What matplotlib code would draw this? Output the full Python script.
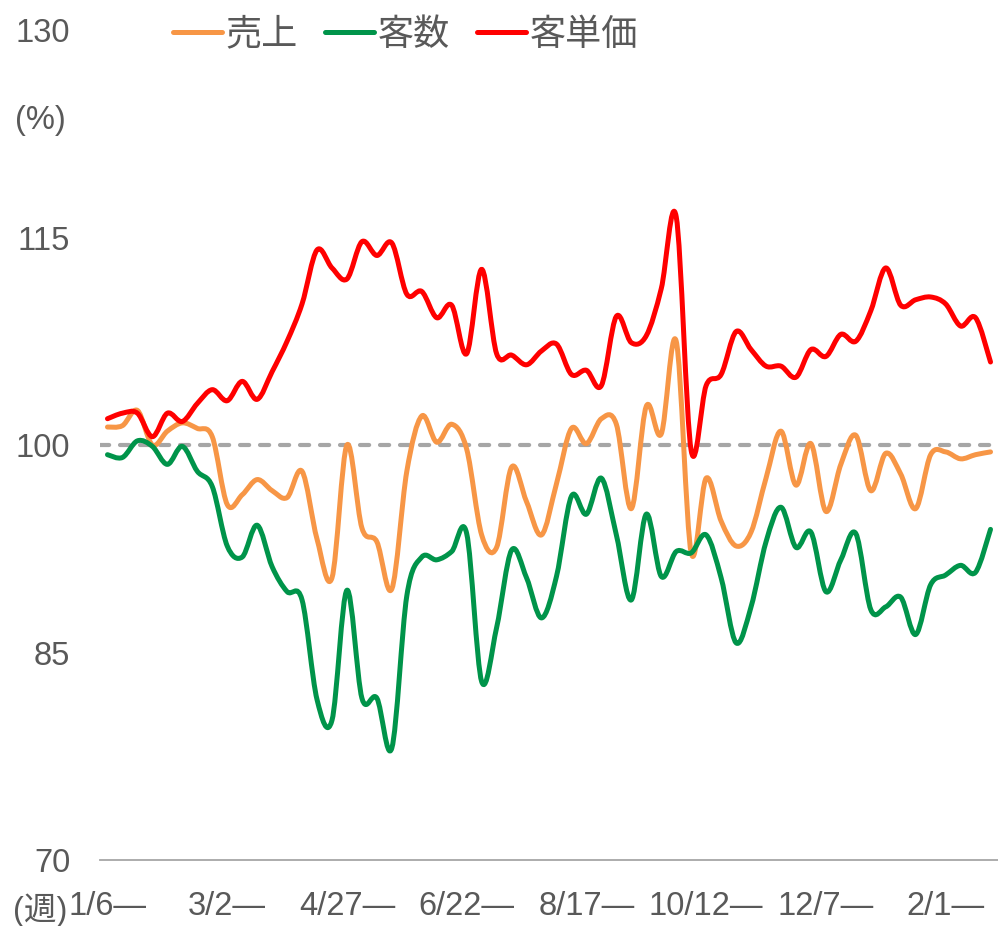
import matplotlib
matplotlib.use("Agg")
import matplotlib.pyplot as plt
from matplotlib.path import Path
from matplotlib.patches import PathPatch
from matplotlib.lines import Line2D

plt.rcParams['font.family'] = ['Liberation Sans', 'Noto Sans CJK JP', 'DejaVu Sans']

# ---- data ----
series_names = ["売上", "客数", "客単価"]
tick_labels = ["1/6—", "3/2—", "4/27—", "6/22—", "8/17—", "10/12—", "12/7—", "2/1—"]
tick_step = 8
baseline = 100

sales = [101.3, 101.4, 102.5, 100.0, 101.0, 101.6, 101.2, 100.6, 95.7, 96.4,
         97.5, 96.7, 96.2, 98.1, 93.2, 90.4, 100.0, 94.0, 93.0, 89.6,
         98.1, 102.1, 100.2, 101.5, 99.7, 93.5, 92.6, 98.4, 95.9, 93.5,
         97.2, 101.2, 100.1, 101.9, 101.5, 95.4, 102.8, 100.8, 107.5, 92.2,
         97.6, 94.5, 92.7, 93.7, 97.6, 101.0, 97.1, 100.1, 95.2, 98.6,
         100.7, 96.7, 99.4, 97.9, 95.4, 99.3, 99.5, 99.0, 99.3, 99.5]

customers = [99.3, 99.1, 100.3, 99.9, 98.6, 99.9, 98.1, 97.0, 92.7, 91.9,
             94.2, 91.2, 89.4, 88.8, 81.6, 80.1, 89.5, 81.7, 81.7, 78.1,
             89.1, 91.9, 91.7, 92.3, 93.6, 82.9, 86.8, 92.4, 90.4, 87.5,
             90.5, 96.3, 95.0, 97.6, 93.5, 88.8, 95.0, 90.5, 92.3, 92.2,
             93.5, 90.4, 85.7, 88.3, 93.0, 95.5, 92.6, 93.7, 89.4, 91.7,
             93.6, 88.1, 88.3, 89.0, 86.3, 89.9, 90.6, 91.3, 90.8, 93.9]

unit_price = [101.9, 102.3, 102.3, 100.6, 102.3, 101.7, 103.0, 104.0, 103.2, 104.6,
              103.3, 105.3, 107.5, 110.2, 114.1, 112.8, 112.0, 114.7, 113.7, 114.6,
              110.9, 111.1, 109.2, 110.1, 106.6, 112.7, 106.6, 106.5, 105.8, 106.8,
              107.3, 105.1, 105.4, 104.3, 109.3, 107.4, 107.9, 111.3, 116.5, 99.6,
              104.3, 105.1, 108.2, 106.9, 105.7, 105.7, 104.9, 106.9, 106.4, 108.0,
              107.5, 109.7, 112.8, 110.1, 110.5, 110.7, 110.2, 108.6, 109.2, 106.0]

colors = ["#F79646", "#00944A", "#FF0000"]
text_color = "#595959"


def smooth_path(ys):
    """Bezier path through the data points (Excel-style smoothed line)."""
    n = len(ys)
    xs = list(range(n))
    verts = [(xs[0], ys[0])]
    codes = [Path.MOVETO]
    for i in range(n - 1):
        p0 = (xs[i - 1], ys[i - 1]) if i > 0 else (xs[i], ys[i])
        p1 = (xs[i], ys[i])
        p2 = (xs[i + 1], ys[i + 1])
        p3 = (xs[i + 2], ys[i + 2]) if i + 2 < n else p2
        c1 = (p1[0] + (p2[0] - p0[0]) / 6, p1[1] + (p2[1] - p0[1]) / 6)
        c2 = (p2[0] - (p3[0] - p1[0]) / 6, p2[1] - (p3[1] - p1[1]) / 6)
        verts += [c1, c2, p2]
        codes += [Path.CURVE4] * 3
    return Path(verts, codes)


fig = plt.figure(figsize=(9.98, 9.26), dpi=100)
ax = fig.add_axes([100 / 998, 1 - 860 / 926, 898 / 998, 830 / 926])

n = len(sales)
ax.set_xlim(-0.5, n - 0.5)
ax.set_ylim(70, 130)

ax.axhline(baseline, color="#A6A6A6", lw=3.0, linestyle=(0, (2.2, 2.6)),
           dash_capstyle="round", zorder=1)

for ys, c in zip([sales, customers, unit_price], colors):
    ax.add_patch(PathPatch(smooth_path(ys), facecolor="none", edgecolor=c,
                           lw=3.6, capstyle="round", joinstyle="round", zorder=3))

ax.set_yticks([70, 85, 100, 115, 130])
ax.set_xticks(list(range(0, tick_step * len(tick_labels), tick_step)))
ax.set_xticklabels(tick_labels)
ax.tick_params(axis="y", length=0, pad=21.5, labelsize=23.5, labelcolor=text_color)
ax.tick_params(axis="x", length=0, pad=22, labelsize=23.5, labelcolor=text_color)

for s in ["top", "right", "left"]:
    ax.spines[s].set_visible(False)
ax.spines["bottom"].set_color("#A6A6A6")
ax.spines["bottom"].set_linewidth(1.3)

fig.text(15 / 998, 1 - 121 / 926, "(%)", fontsize=23.5, color=text_color,
         ha="left", va="center")
fig.text(13 / 998, 1 - 910 / 926, "(週)", fontsize=23.5, color=text_color,
         ha="left", va="center")

handles = [Line2D([], [], color=c, lw=3.6, solid_capstyle="round") for c in colors]
fig.legend(handles, series_names, loc="center left",
           bbox_to_anchor=(173 / 998, 1 - 35 / 926), ncol=3, frameon=False,
           fontsize=26, labelcolor=text_color, handlelength=1.36,
           handletextpad=0.1, columnspacing=0.75, borderpad=0, borderaxespad=0)

fig.savefig("out.png", dpi=100)
